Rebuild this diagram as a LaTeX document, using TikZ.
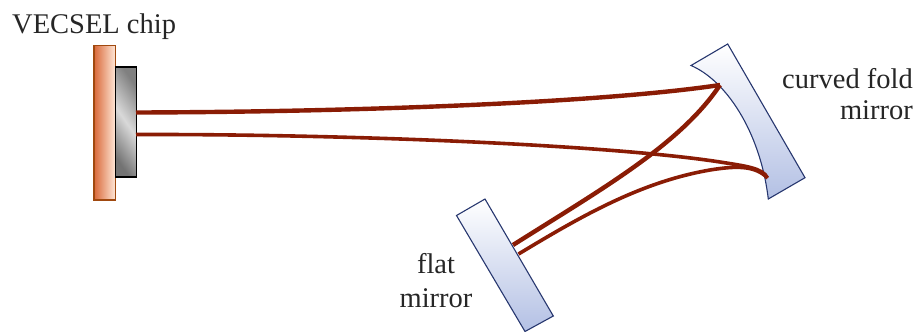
\documentclass[tikz,border=0pt]{standalone}
\usepackage{fontspec}
\setmainfont{Liberation Serif}
\definecolor{beam}{HTML}{8A1C05}
\definecolor{mirrorline}{HTML}{27376F}
\definecolor{mirrorlow}{HTML}{B3C0E4}
\definecolor{copperline}{HTML}{A0490F}
\definecolor{copperdark}{HTML}{D9693A}
\definecolor{copperlight}{HTML}{FFE8D8}
\tikzset{
  mirrorbody/.style={draw=mirrorline,line width=1.1pt,top color=white,bottom color=mirrorlow},
  beamthick/.style={draw=beam,line width=4.4pt},
  beamthin/.style={draw=beam,line width=3.6pt},
  labeltext/.style={font=\fontsize{28.5}{34}\selectfont,inner sep=0pt,text=black!85}
}
\begin{document}
\begin{tikzpicture}[x=1pt,y=-1pt]
\useasboundingbox (0,0) rectangle (916,332);
% coordinates
\coordinate (chipU) at (136,112.5);
\coordinate (chipL) at (136,134.5);
\coordinate (foldU) at (720,85);
\coordinate (foldL) at (767.5,178);
\coordinate (flatU) at (513,245);
\coordinate (flatL) at (518.5,254);
% mount and chip
\shade[left color=copperdark,right color=copperlight,draw=copperline,line width=1.2pt] (94,45.5) rectangle (115.5,200);
\shade[left color=black!55,right color=black!50,middle color=black!15,shading angle=125,draw=black,line width=1.4pt] (115.5,67) rectangle (136.5,177);
% mirrors
\path[mirrorbody] (691,65.5) .. controls (725,80) and (760,130) .. (768.3,199) -- (805,177.7) -- (727.7,44) -- cycle;
\path[mirrorbody] (485,199) -- (456.5,215.5) -- (525,331.5) -- (553.3,316) -- cycle;
% beams
\draw[beamthick] (chipU) .. controls (350,112) and (600,103) .. (foldU);
\draw[beamthick] (foldU) .. controls (680,145) and (600,190) .. (flatU);
\draw[beamthin] (chipL) .. controls (350,134) and (610,145) .. (720,162) .. controls (745,166) and (763,168) .. (foldL);
\draw[beamthin] (foldL) .. controls (755,165) and (735,166) .. (710,170) .. controls (640,182) and (580,217) .. (flatL);
% labels
\node[labeltext,anchor=base west] (chiplabel) at (12,34) {VECSEL chip};
\node[labeltext,anchor=base east] (foldlabel1) at (913,88) {curved fold};
\node[labeltext,anchor=base east] (foldlabel2) at (913,119) {mirror};
\node[labeltext,anchor=base] (flatlabel1) at (436,273) {flat};
\node[labeltext,anchor=base] (flatlabel2) at (436,307) {mirror};
\end{tikzpicture}
\end{document}
